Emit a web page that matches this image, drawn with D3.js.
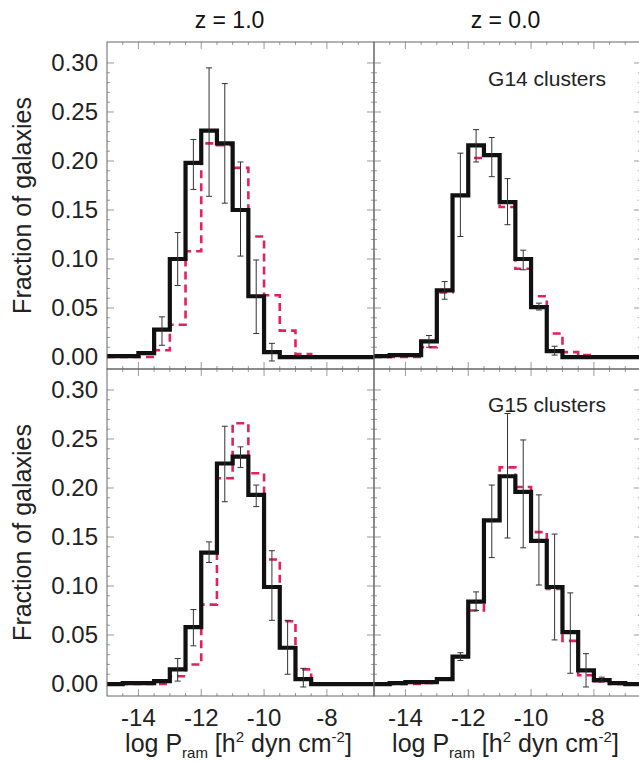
<!DOCTYPE html>
<html lang="en">
<head>
<meta charset="UTF-8" />
<title>Ram pressure distributions</title>
<script src="https://d3js.org/d3.v7.min.js"></script>
<style>
  body { margin: 0; background: #fff; }
  svg { display: block; font-family: 'Liberation Sans', Arial, Helvetica, sans-serif; }
</style>
</head>
<body>
<div id="chart"></div>
<script>
// log P_ram bin centres (0.5 dex bins)
const binCenters = [-14.75, -14.25, -13.75, -13.25, -12.75, -12.25, -11.75, -11.25, -10.75,
                    -10.25, -9.75, -9.25, -8.75, -8.25, -7.75, -7.25, -6.75];
const columnTitles = ["z = 1.0", "z = 0.0"];
const rowNotes = ["G14 clusters", "G15 clusters"];
const yTickValues = [0.00, 0.05, 0.10, 0.15, 0.20, 0.25, 0.30];
const xTickValues = [-14, -12, -10, -8];

// G14, z = 1.0
const g14z1Solid  = [0.001, 0.001, 0.004, 0.028, 0.100, 0.198, 0.231, 0.218, 0.150, 0.062, 0.005, 0, 0, 0, 0, 0, 0];
const g14z1Dashed = [0, 0, 0, 0.007, 0.033, 0.108, 0.218, 0.216, 0.193, 0.123, 0.063, 0.027, 0.003, 0, 0, 0, 0];
const g14z1ErrLo  = [null, null, null, 0.012, 0.073, 0.171, 0.164, 0.157, 0.103, 0.024, -0.004, null, null, null, null, null, null];
const g14z1ErrHi  = [null, null, null, 0.041, 0.127, 0.222, 0.295, 0.279, 0.199, 0.099, 0.014, null, null, null, null, null, null];

// G14, z = 0.0
const g14z0Solid  = [0.001, 0.002, 0.002, 0.016, 0.068, 0.165, 0.216, 0.206, 0.158, 0.100, 0.051, 0.006, 0, 0, 0, 0, 0];
const g14z0Dashed = [0, 0, 0, 0.010, 0.066, 0.165, 0.203, 0.206, 0.153, 0.090, 0.062, 0.024, 0.005, 0.002, 0, 0, 0];
const g14z0ErrLo  = [null, null, null, 0.010, 0.059, 0.123, 0.199, 0.184, 0.135, 0.089, 0.048, 0.002, null, null, null, null, null];
const g14z0ErrHi  = [null, null, null, 0.022, 0.077, 0.208, 0.232, 0.224, 0.182, 0.109, 0.055, 0.011, null, null, null, null, null];

// G15, z = 1.0
const g15z1Solid  = [0, 0.001, 0.001, 0.003, 0.015, 0.058, 0.134, 0.225, 0.232, 0.193, 0.099, 0.037, 0.005, 0, 0, 0, 0];
const g15z1Dashed = [0, 0, 0, 0, 0.008, 0.020, 0.081, 0.210, 0.266, 0.215, 0.127, 0.064, 0.015, 0, 0, 0, 0];
const g15z1ErrLo  = [null, null, null, null, 0.003, 0.039, 0.124, 0.186, 0.221, 0.181, 0.065, 0.010, -0.003, null, null, null, null];
const g15z1ErrHi  = [null, null, null, null, 0.026, 0.076, 0.145, 0.263, 0.242, 0.203, 0.136, 0.065, 0.016, null, null, null, null];

// G15, z = 0.0
const g15z0Solid  = [0, 0.001, 0.002, 0.002, 0.005, 0.028, 0.084, 0.167, 0.212, 0.196, 0.146, 0.099, 0.053, 0.014, 0.004, 0.001, 0];
const g15z0Dashed = [0, 0, 0, 0.001, 0.005, 0.028, 0.075, 0.167, 0.221, 0.201, 0.155, 0.097, 0.044, 0.009, 0.003, 0, 0];
const g15z0ErrLo  = [null, null, null, null, null, 0.024, 0.075, 0.129, 0.149, 0.139, 0.101, 0.045, 0.011, -0.003, 0.002, null, null];
const g15z0ErrHi  = [null, null, null, null, null, 0.032, 0.094, 0.203, 0.276, 0.249, 0.193, 0.153, 0.093, 0.031, 0.007, null, null];

const panels = [
  { row: 0, col: 0, solid: g14z1Solid, dashed: g14z1Dashed, lo: g14z1ErrLo, hi: g14z1ErrHi },
  { row: 0, col: 1, solid: g14z0Solid, dashed: g14z0Dashed, lo: g14z0ErrLo, hi: g14z0ErrHi },
  { row: 1, col: 0, solid: g15z1Solid, dashed: g15z1Dashed, lo: g15z1ErrLo, hi: g15z1ErrHi },
  { row: 1, col: 1, solid: g15z0Solid, dashed: g15z0Dashed, lo: g15z0ErrLo, hi: g15z0ErrHi }
];

const width = 639, height = 762;
const colX = [107, 374], panelW = 267;
const rowY = [42, 369], panelH = 327;
const halfBin = 0.25;
const labelSize = 24;

const svg = d3.select("#chart").append("svg")
  .attr("width", width).attr("height", height);

const x = d3.scaleLinear().domain([-15, -6.5]).range([0, panelW]);
const y = d3.scaleLinear().domain([-0.0122, 0.3214]).range([panelH, 0]);

const stepLine = d3.line()
  .x(d => x(d[0])).y(d => y(d[1]))
  .curve(d3.curveStepAfter);

function stepPoints(values) {
  const pts = binCenters.map((c, i) => [c - halfBin, values[i]]);
  pts.push([binCenters[binCenters.length - 1] + halfBin, values[values.length - 1]]);
  return pts;
}

panels.forEach(p => {
  const g = svg.append("g")
    .attr("transform", `translate(${colX[p.col]},${rowY[p.row]})`);

  // ticks on all four sides, pointing inward
  const tickColor = "#9a9a9a";
  const yMinor = d3.range(0, 0.305, 0.01);
  const xMinor = d3.range(-14.5, -6.5, 0.5);
  yMinor.forEach(v => {
    const major = Math.abs(v / 0.05 - Math.round(v / 0.05)) < 1e-6;
    const len = major ? 7 : 3;
    g.append("line").attr("x1", 0).attr("x2", len).attr("y1", y(v)).attr("y2", y(v))
      .attr("stroke", tickColor).attr("stroke-width", 1);
    g.append("line").attr("x1", panelW).attr("x2", panelW - len).attr("y1", y(v)).attr("y2", y(v))
      .attr("stroke", tickColor).attr("stroke-width", 1);
  });
  xMinor.forEach(v => {
    const major = Math.abs(v / 2 - Math.round(v / 2)) < 1e-6;
    const len = major ? 7 : 3;
    g.append("line").attr("x1", x(v)).attr("x2", x(v)).attr("y1", panelH).attr("y2", panelH - len)
      .attr("stroke", tickColor).attr("stroke-width", 1);
    g.append("line").attr("x1", x(v)).attr("x2", x(v)).attr("y1", 0).attr("y2", len)
      .attr("stroke", tickColor).attr("stroke-width", 1);
  });

  // red dashed histogram
  g.append("path")
    .attr("d", stepLine(stepPoints(p.dashed)))
    .attr("fill", "none")
    .attr("stroke", "#e3215c")
    .attr("stroke-width", 2.6)
    .attr("stroke-dasharray", "8,5");

  // black solid histogram
  g.append("path")
    .attr("d", stepLine(stepPoints(p.solid)))
    .attr("fill", "none")
    .attr("stroke", "#111")
    .attr("stroke-width", 4.2);

  // error bars
  binCenters.forEach((c, i) => {
    if (p.lo[i] == null) return;
    const cx = x(c);
    const eb = g.append("g").attr("stroke", "#333").attr("stroke-width", 1);
    eb.append("line").attr("x1", cx).attr("x2", cx).attr("y1", y(p.lo[i])).attr("y2", y(p.hi[i]));
    eb.append("line").attr("x1", cx - 3).attr("x2", cx + 3).attr("y1", y(p.lo[i])).attr("y2", y(p.lo[i]));
    eb.append("line").attr("x1", cx - 3).attr("x2", cx + 3).attr("y1", y(p.hi[i])).attr("y2", y(p.hi[i]));
  });

  // frame
  g.append("rect")
    .attr("x", 0).attr("y", 0).attr("width", panelW).attr("height", panelH)
    .attr("fill", "none").attr("stroke", "#666").attr("stroke-width", 1);

  if (p.col === 1) {
    g.append("text")
      .attr("x", 173).attr("y", p.row === 0 ? 44 : 43)
      .attr("text-anchor", "middle")
      .attr("font-size", 21).attr("fill", "#222")
      .text(rowNotes[p.row]);
  }

  if (p.col === 0) {
    g.selectAll(".ylab").data(yTickValues).enter().append("text")
      .attr("x", -9).attr("y", d => y(d) + 8)
      .attr("text-anchor", "end")
      .attr("font-size", labelSize).attr("fill", "#222")
      .text(d => d.toFixed(2));
    g.append("text")
      .attr("transform", `translate(-76,${panelH / 2}) rotate(-90)`)
      .attr("text-anchor", "middle")
      .attr("font-size", 25).attr("fill", "#222")
      .text("Fraction of galaxies");
  }

  if (p.row === 0) {
    g.append("text")
      .attr("x", p.col === 0 ? panelW / 2 - 11 : panelW / 2 - 2).attr("y", -14)
      .attr("text-anchor", "middle")
      .attr("font-size", 23).attr("fill", "#111")
      .text(columnTitles[p.col]);
  }

  if (p.row === 1) {
    g.selectAll(".xlab").data(xTickValues).enter().append("text")
      .attr("x", d => x(d)).attr("y", panelH + 30)
      .attr("text-anchor", "middle")
      .attr("font-size", labelSize).attr("fill", "#222")
      .text(d => d);
    const lab = g.append("text")
      .attr("x", panelW / 2 - 2).attr("y", panelH + 56)
      .attr("text-anchor", "middle")
      .attr("font-size", 25).attr("fill", "#222");
    lab.append("tspan").text("log P");
    lab.append("tspan").attr("font-size", 15).attr("dy", 6).text("ram");
    lab.append("tspan").attr("dy", -6).text(" [h");
    lab.append("tspan").attr("font-size", 15).attr("dy", -10).text("2");
    lab.append("tspan").attr("dy", 10).text(" dyn cm");
    lab.append("tspan").attr("font-size", 15).attr("dy", -10).text("-2");
    lab.append("tspan").attr("dy", 10).text("]");
  }
});
</script>
</body>
</html>
